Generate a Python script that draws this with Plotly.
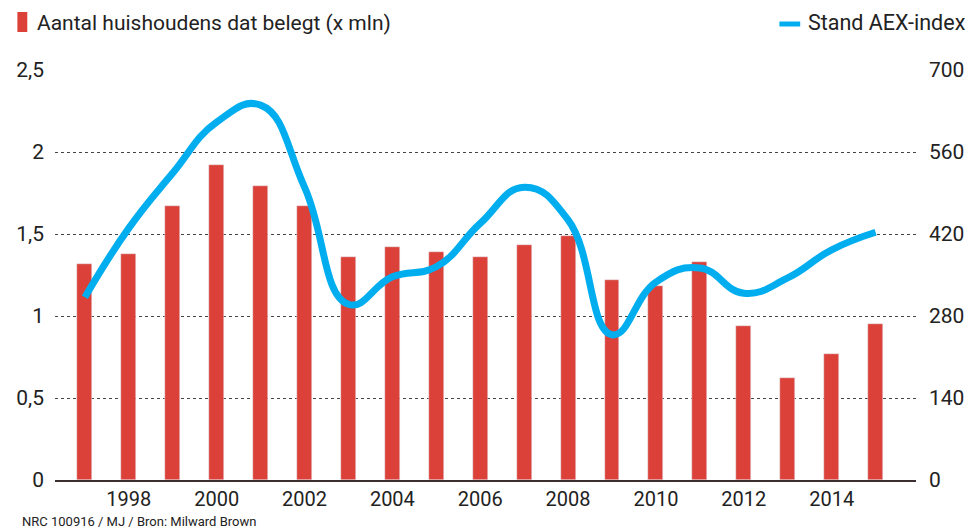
import plotly.graph_objects as go

years = list(range(1997, 2016))
households = [1.32, 1.38, 1.67, 1.92, 1.79, 1.67, 1.36, 1.42, 1.39, 1.36, 1.43, 1.49,
              1.22, 1.18, 1.33, 0.94, 0.62, 0.77, 0.95]
aex = [312, 430, 524, 611, 640, 500, 300, 347, 364, 438, 500, 444,
       248, 338, 362, 319, 345, 393, 423]

left_ticks = [0, 0.5, 1, 1.5, 2, 2.5]
left_labels = ["0", "0,5", "1", "1,5", "2", "2,5"]
right_ticks = [0, 140, 280, 420, 560, 700]
x_ticks = [1998, 2000, 2002, 2004, 2006, 2008, 2010, 2012, 2014]

RED = "#DB4139"
BLUE = "#00AEEF"
FONT = "Roboto"
TXT = "#222"

fig = go.Figure()
fig.add_trace(go.Bar(x=years, y=households, marker_color=RED, width=0.34,
                     name="Aantal huishoudens dat belegt (x mln)", showlegend=False))
fig.add_trace(go.Scatter(x=years, y=aex, yaxis="y2", mode="lines",
                         line=dict(color=BLUE, width=7, shape="spline", smoothing=1.3),
                         name="Stand AEX-index", showlegend=False))

fig.update_layout(
    width=976, height=532,
    margin=dict(l=55, r=51, t=70, b=52),
    paper_bgcolor="white", plot_bgcolor="white",
    font=dict(family=FONT, size=20, color=TXT),
    bargap=0,
    xaxis=dict(range=[1996.32, 2015.92], tickvals=x_ticks, ticktext=[str(t) for t in x_ticks],
               showgrid=False, showline=True, linecolor="#3b2f2f", linewidth=1.5,
               ticks="", ticklabelstandoff=0, zeroline=False),
    yaxis=dict(range=[0, 2.5], tickvals=left_ticks, ticktext=left_labels,
               showgrid=True, gridcolor="#444", griddash="dot", gridwidth=1,
               zeroline=False, ticks="", ticklabelstandoff=10, tickfont=dict(size=21)),
    yaxis2=dict(range=[0, 700], overlaying="y", side="right", tickvals=right_ticks,
                ticktext=[str(t) for t in right_ticks], showgrid=False, zeroline=False,
                ticks="", ticklabelstandoff=12, tickfont=dict(size=21)),
)

W = 870.0
H = 410.0
# legend (custom placement)
fig.add_shape(type="rect", xref="paper", yref="paper",
              x0=-38/W, x1=-28/W, y0=1 + (70-32)/H, y1=1 + (70-12)/H,
              fillcolor=RED, line_width=0)
fig.add_annotation(text="Aantal huishoudens dat belegt (x mln)", xref="paper", yref="paper",
                   x=-20/W, y=1 + (70-23)/H, xanchor="left", yanchor="middle",
                   showarrow=False, font=dict(family=FONT, size=21, color=TXT))
fig.add_shape(type="line", xref="paper", yref="paper",
              x0=(787-55)/W, x1=(808-55)/W, y0=1 + (70-24)/H, y1=1 + (70-24)/H,
              line=dict(color=BLUE, width=5))
fig.add_annotation(text="Stand AEX-index", xref="paper", yref="paper",
                   x=(814-55)/W, y=1 + (70-23)/H, xanchor="left", yanchor="middle",
                   showarrow=False, font=dict(family=FONT, size=21.5, color=TXT))
fig.add_annotation(text="NRC 100916 / MJ / Bron: Milward Brown", xref="paper", yref="paper",
                   x=(20-55)/W, y=-(521-480)/H, xanchor="left", yanchor="middle",
                   showarrow=False, font=dict(family=FONT, size=13, color=TXT))

fig.write_html("out.html",
               config={"displayModeBar": False},
               post_script="document.body.style.margin='0';document.body.style.overflow='hidden';")
